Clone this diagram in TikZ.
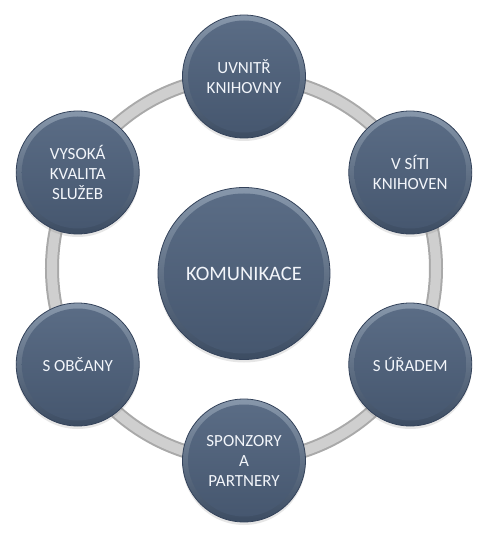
\documentclass[tikz,border=0pt]{standalone}
\usepackage{fontspec}
\setmainfont{Carlito}
\usetikzlibrary{shadows}

\definecolor{rimtop}{HTML}{8797AB}
\definecolor{rimbot}{HTML}{3C4C62}
\definecolor{facetop}{HTML}{5B6D86}
\definecolor{facebot}{HTML}{45566E}
\definecolor{discedge}{HTML}{33425A}
\definecolor{disctext}{HTML}{F2F5FA}
\definecolor{ringdark}{HTML}{A9A9A9}
\definecolor{ringlight}{HTML}{CFCFCF}

\begin{document}
\begin{tikzpicture}[x=1pt,y=1pt,
    disc/.style={circle, draw=discedge, line width=0.8pt,
        top color=rimtop, bottom color=rimbot, text=disctext, align=center,
        drop shadow={shadow xshift=0pt, shadow yshift=-3pt, opacity=0.2},
        font=\fontsize{17}{20}\selectfont},
    hub/.style={disc, minimum size=172pt, font=\fontsize{20.5}{24}\selectfont,
        path picture={\shade[top color=facetop, bottom color=facebot]
            (path picture bounding box.center) circle[radius=80];}},
    sat/.style={disc, minimum size=123pt,
        path picture={\shade[top color=facetop, bottom color=facebot]
            (path picture bounding box.center) circle[radius=56];}}]

    \useasboundingbox (-244,-274.5) rectangle (243,268.5);

    % Centre
    \node[hub] (komunikace) at (0,-5) {KOMUNIKACE};

    % Gray ring behind the outer discs
    \coordinate (mid) at (0,0);
    \draw[ringdark, line width=14pt] (mid) circle[radius=192];
    \draw[ringlight, line width=10pt] (mid) circle[radius=192];

    % Outer discs
    \foreach \ang/\name/\txt in {90/uvnitr/{UVNITŘ\\KNIHOVNY},
                                 30/vsiti/{V SÍTI\\KNIHOVEN},
                                 -30/suradem/{S ÚŘADEM},
                                 -90/sponzory/{SPONZORY\\A\\PARTNERY},
                                 210/sobcany/{S OBČANY},
                                 150/kvalita/{VYSOKÁ\\KVALITA\\SLUŽEB}} {
        \node[sat] (\name) at (\ang:192) {\txt};
    }
\end{tikzpicture}
\end{document}
